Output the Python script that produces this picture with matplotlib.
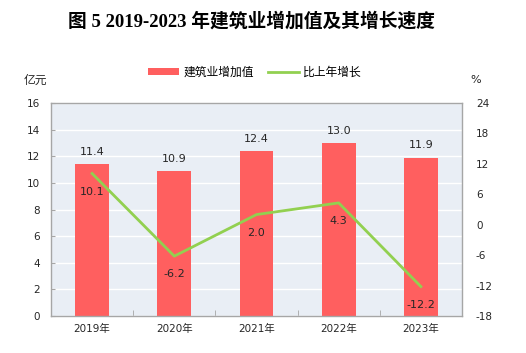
import matplotlib
matplotlib.use("Agg")
import matplotlib.pyplot as plt
from matplotlib.ticker import MultipleLocator, FixedLocator

plt.rcParams["font.family"] = ["DejaVu Sans", "Noto Sans CJK SC"]
plt.rcParams["axes.unicode_minus"] = False

years = ["2019年", "2020年", "2021年", "2022年", "2023年"]
value_added = [11.4, 10.9, 12.4, 13.0, 11.9]
growth = [10.1, -6.2, 2.0, 4.3, -12.2]

BAR_COLOR = "#FF5F5F"
LINE_COLOR = "#92D050"
BG_COLOR = "#E9EEF5"
SPINE_COLOR = "#A6A6A6"
TEXT_COLOR = "#262626"

fig = plt.figure(figsize=(5.26, 3.53), dpi=100)
ax = fig.add_axes([51 / 526, 1 - 316 / 353, 411 / 526, 213 / 353])
ax.set_facecolor(BG_COLOR)

x = list(range(len(years)))
bars = ax.bar(x, value_added, width=0.41, color=BAR_COLOR, zorder=2)
ax.set_xlim(-0.5, len(years) - 0.5)
ax.set_ylim(0, 16)
ax.yaxis.set_major_locator(MultipleLocator(2))
ax.grid(axis="y", color="white", linewidth=1.0, zorder=1)
ax.set_axisbelow(True)
ax.set_xticks(x)
ax.set_xticklabels(years, fontsize=7.5, color=TEXT_COLOR, family=["DejaVu Sans", "Noto Sans CJK SC"])
ax.xaxis.set_minor_locator(FixedLocator([i + 0.5 for i in range(len(years) - 1)]))
ax.tick_params(axis="x", which="major", length=0, pad=6)
ax.tick_params(axis="x", which="minor", length=4, direction="in", color=SPINE_COLOR)
ax.tick_params(axis="y", length=3, direction="in", color=SPINE_COLOR, labelsize=7.5, labelcolor=TEXT_COLOR, pad=8)
for s in ax.spines.values():
    s.set_color(SPINE_COLOR)
    s.set_linewidth(1.0)

for i, v in enumerate(value_added):
    ax.text(i, v + 0.55, f"{v:.1f}", ha="center", va="bottom", fontsize=8, color=TEXT_COLOR)

ax2 = ax.twinx()
ax2.set_ylim(-18, 24)
ax2.yaxis.set_major_locator(MultipleLocator(6))
line, = ax2.plot(x, growth, color=LINE_COLOR, linewidth=2, zorder=3)
ax2.tick_params(axis="y", length=0, labelsize=7.5, labelcolor=TEXT_COLOR, pad=10)
for s in ax2.spines.values():
    s.set_visible(False)

for i, v in enumerate(growth):
    ax2.text(i, v - 2.6, f"{v:.1f}", ha="center", va="top", fontsize=8, color=TEXT_COLOR)

fig.text(252 / 526, 1 - 21 / 353, "图 5 2019-2023 年建筑业增加值及其增长速度", ha="center", va="center",
         fontsize=13.5, fontweight="bold", family=["Liberation Serif", "Noto Sans CJK SC"], color="black")
fig.text(35 / 526, 1 - 80 / 353, "亿元", ha="center", va="center", fontsize=8.5,
         family=["Noto Sans CJK SC"], color=TEXT_COLOR)
fig.text(476 / 526, 1 - 80 / 353, "%", ha="center", va="center", fontsize=8, color=TEXT_COLOR)

fig.legend([bars, line], ["建筑业增加值", "比上年增长"], loc="center", bbox_to_anchor=(255 / 526, 1 - 72 / 353),
           ncol=2, frameon=False, handlelength=2.6, handleheight=0.6, columnspacing=1.2, handletextpad=0.4,
           prop={"family": ["Noto Sans CJK SC"], "size": 8.5})

fig.savefig("out.png", dpi=100, facecolor="white")
